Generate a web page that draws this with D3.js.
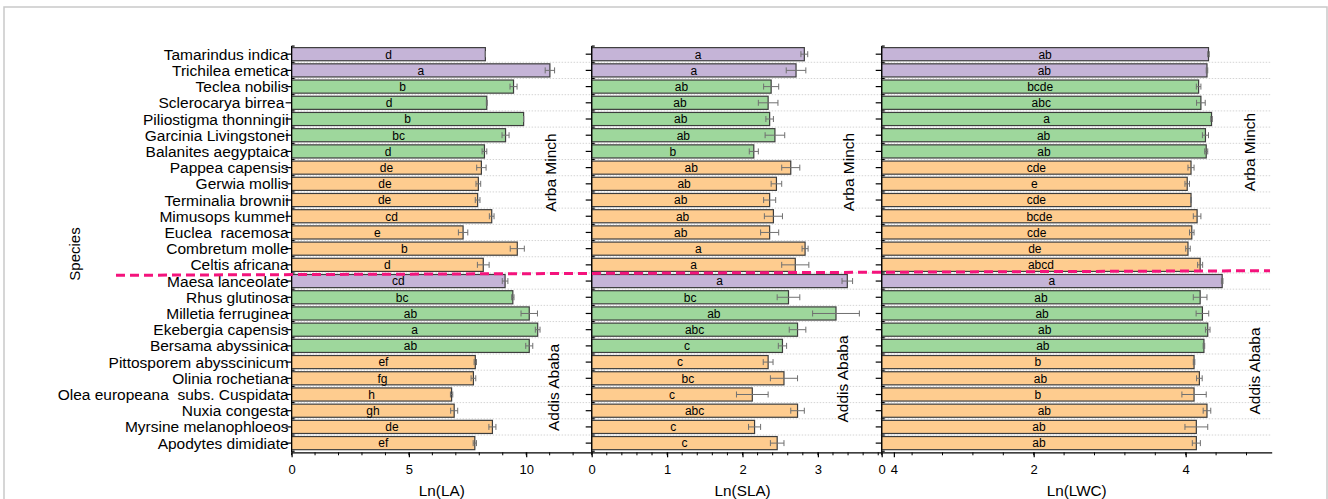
<!DOCTYPE html>
<html>
<head>
<meta charset="utf-8">
<script src="https://cdn.jsdelivr.net/npm/d3@7"></script>
<style>
  html, body { margin: 0; padding: 0; background: #fff; }
  svg text { font-family: "Liberation Sans", Arial, Helvetica, sans-serif; fill: #000; }
</style>
</head>
<body>
<svg id="chart" width="1328" height="499"></svg>
<script>
// ---- Data -------------------------------------------------------------
const species = [
  "Tamarindus indica", "Trichilea emetica", "Teclea nobilis", "Sclerocarya birrea ",
  "Piliostigma thonningii", "Garcinia Livingstonei", "Balanites aegyptaica",
  "Pappea capensis", "Gerwia mollis", "Terminalia brownii", "Mimusops kummel",
  "Euclea  racemosa", "Combretum molle", "Celtis africana",
  "Maesa lanceolate", "Rhus glutinosa", "Milletia ferruginea", "Ekebergia capensis",
  "Bersama abyssinica", "Pittosporem abysscinicum", "Olinia rochetiana",
  "Olea europeana  subs. Cuspidata", "Nuxia congesta", "Myrsine melanophloeos",
  "Apodytes dimidiate"
];
// species group (bar colour class)
const speciesGroup = [
  "A", "A", "B", "B", "B", "B", "B",
  "C", "C", "C", "C", "C", "C", "C",
  "A", "B", "B", "B", "B",
  "C", "C", "C", "C", "C", "C"
];
const sites = ["Arba Minch", "Addis Ababa"];

// Ln(LA)
const laMean = [8.26, 11.01, 9.46, 8.32, 9.89, 9.12, 8.22, 8.09, 7.96, 7.93, 8.53, 7.31, 9.62, 8.17,
                9.10, 9.43, 10.13, 10.49, 10.13, 7.83, 7.75, 6.82, 6.93, 8.56, 7.81];
const laErr  = [0.00, 0.20, 0.15, 0.02, 0.00, 0.15, 0.10, 0.20, 0.10, 0.10, 0.10, 0.20, 0.30, 0.25,
                0.12, 0.05, 0.35, 0.10, 0.15, 0.05, 0.10, 0.05, 0.15, 0.15, 0.07];
const laLetters = ["d", "a", "b", "d", "b", "bc", "d", "de", "de", "de", "cd", "e", "b", "d",
                   "cd", "bc", "ab", "a", "ab", "ef", "fg", "h", "gh", "de", "ef"];

// Ln(SLA)
const slaMean = [2.82, 2.71, 2.38, 2.34, 2.36, 2.43, 2.15, 2.64, 2.45, 2.36, 2.41, 2.36, 2.83, 2.70,
                 3.39, 2.61, 3.24, 2.73, 2.53, 2.34, 2.55, 2.13, 2.73, 2.16, 2.46];
const slaErr  = [0.045, 0.13, 0.10, 0.13, 0.05, 0.13, 0.06, 0.12, 0.07, 0.08, 0.12, 0.12, 0.04, 0.18,
                 0.07, 0.15, 0.31, 0.11, 0.055, 0.065, 0.18, 0.21, 0.09, 0.08, 0.09];
const slaLetters = ["a", "a", "ab", "ab", "ab", "ab", "b", "ab", "ab", "ab", "ab", "ab", "a", "a",
                    "a", "bc", "ab", "abc", "c", "c", "bc", "c", "abc", "c", "c"];

// Ln(LWC)
const lwcMean = [4.30, 4.28, 4.17, 4.20, 4.34, 4.26, 4.27, 4.07, 4.02, 4.07, 4.15, 4.08, 4.03, 4.19,
                 4.48, 4.19, 4.22, 4.29, 4.24, 4.11, 4.18, 4.11, 4.28, 4.14, 4.14];
const lwcErr  = [0.01, 0.01, 0.03, 0.057, 0.01, 0.04, 0.02, 0.04, 0.03, 0.005, 0.05, 0.03, 0.03, 0.033,
                 0.01, 0.09, 0.083, 0.03, 0.01, 0.01, 0.037, 0.16, 0.05, 0.15, 0.053];
const lwcLetters = ["ab", "ab", "bcde", "abc", "a", "ab", "ab", "cde", "e", "cde", "bcde", "cde", "de", "abcd",
                    "a", "ab", "ab", "ab", "ab", "b", "ab", "b", "ab", "ab", "ab"];

// Axis ticks
const laTickValues  = [0, 5, 10];
const laTickLabels  = ["0", "5", "10"];
const slaTickValues = [0, 1, 2, 3];
const slaTickLabels = ["0", "1", "2", "3"];
const lwcTickValues = [0, 0.16, 2, 4];
const lwcTickLabels = ["0", "4", "2", "4"];

// ---- Layout -----------------------------------------------------------
const plotTop = 46, plotBottom = 451.3, axisY = 452.3;
const groupColor = { A: "#c5b4d7", B: "#9ed79c", C: "#fecc8f" };

const panels = [
  { title: "Ln(LA)", mean: laMean, err: laErr, letters: laLetters,
    x0: 291.6, x1: 592, perUnit: 23.46, minorStep: 1,
    tickValues: laTickValues, tickLabels: laTickLabels,
    siteLabelPos: [[550, 172.5], [553, 387.5]] },
  { title: "Ln(SLA)", mean: slaMean, err: slaErr, letters: slaLetters,
    x0: 591.7, x1: 881.6, perUnit: 75.4, minorStep: 0.2,
    tickValues: slaTickValues, tickLabels: slaTickLabels,
    siteLabelPos: [[848, 172], [842, 379]] },
  { title: "Ln(LWC)", mean: lwcMean, err: lwcErr, letters: lwcLetters,
    x0: 881.7, x1: 1271.7, perUnit: 76, minorStep: 0.4,
    tickValues: lwcTickValues, tickLabels: lwcTickLabels,
    siteLabelPos: [[1249, 152], [1254, 371]] }
];

const svg = d3.select("#chart");

// outer frame
svg.append("rect")
  .attr("x", 4).attr("y", 7).attr("width", 1323).attr("height", 520)
  .attr("fill", "none").attr("stroke", "#c9c9c9").attr("stroke-width", 1.5);

const y = d3.scaleBand()
  .domain(species)
  .range([plotTop, plotBottom])
  .paddingInner(0.19)
  .paddingOuter(0.1);
const step = y.step();
const boundaries = species.map(s => y(s) - step * y.paddingInner() / 2)
  .concat([y(species[species.length - 1]) + y.bandwidth() + step * y.paddingInner() / 2]);

panels.forEach((p, pi) => {
  const x = d3.scaleLinear()
    .domain([0, (p.x1 - p.x0) / p.perUnit])
    .range([p.x0, p.x1]);
  const g = svg.append("g");

  // dotted row separators
  g.selectAll("line.grid").data(boundaries.slice(1, -1)).join("line")
    .attr("x1", p.x0).attr("x2", p.x1)
    .attr("y1", d => d).attr("y2", d => d)
    .attr("stroke", "#d4d4d4").attr("stroke-width", 1)
    .attr("stroke-dasharray", "1.5,1.5");

  // bars
  g.selectAll("rect.bar").data(species).join("rect")
    .attr("x", x(0))
    .attr("y", d => y(d))
    .attr("width", (d, i) => x(p.mean[i]) - x(0))
    .attr("height", y.bandwidth())
    .attr("fill", (d, i) => groupColor[speciesGroup[i]])
    .attr("stroke", "#3d3d3d").attr("stroke-width", 1.2);

  // error bars
  const eb = g.selectAll("g.err").data(species).join("g")
    .attr("stroke", "#707070").attr("stroke-width", 1).attr("fill", "none");
  eb.append("line")
    .attr("x1", (d, i) => x(p.mean[i] - p.err[i]))
    .attr("x2", (d, i) => x(p.mean[i] + p.err[i]))
    .attr("y1", d => y(d) + y.bandwidth() / 2)
    .attr("y2", d => y(d) + y.bandwidth() / 2);
  [-1, 1].forEach(sgn => {
    eb.append("line")
      .attr("x1", (d, i) => x(p.mean[i] + sgn * p.err[i]))
      .attr("x2", (d, i) => x(p.mean[i] + sgn * p.err[i]))
      .attr("y1", d => y(d) + y.bandwidth() / 2 - 3)
      .attr("y2", d => y(d) + y.bandwidth() / 2 + 3);
  });

  // significance letters
  g.selectAll("text.letter").data(species).join("text")
    .attr("x", (d, i) => (x(0) + x(p.mean[i])) / 2)
    .attr("y", d => y(d) + y.bandwidth() / 2)
    .attr("dy", "0.36em")
    .attr("text-anchor", "middle")
    .attr("font-size", 12)
    .text((d, i) => p.letters[i]);

  // y axis line and ticks
  const ya = svg.append("g").attr("stroke", "#000").attr("stroke-width", 1.2);
  ya.append("line").attr("x1", p.x0).attr("x2", p.x0).attr("y1", plotTop).attr("y2", axisY);
  ya.selectAll("line.tk").data(species).join("line")
    .attr("x1", p.x0 - 6).attr("x2", p.x0)
    .attr("y1", d => y(d) + y.bandwidth() / 2)
    .attr("y2", d => y(d) + y.bandwidth() / 2);
  ya.selectAll("line.tb").data(boundaries).join("line")
    .attr("x1", p.x0).attr("x2", p.x0 + 3)
    .attr("y1", d => d).attr("y2", d => d);

  // species labels on first panel only
  if (pi === 0) {
    svg.append("g").selectAll("text").data(species).join("text")
      .attr("x", p.x0 - 3)
      .attr("y", d => y(d) + y.bandwidth() / 2)
      .attr("dy", "0.36em")
      .attr("text-anchor", "end")
      .attr("font-size", 15.5)
      .style("white-space", "pre")
      .text(d => d);
  }

  // x axis: major ticks with labels
  const xa = d3.axisBottom(x)
    .tickValues(p.tickValues)
    .tickFormat((d, i) => p.tickLabels[i])
    .tickSize(5)
    .tickSizeOuter(0)
    .tickPadding(7);
  const xg = svg.append("g").attr("transform", `translate(0,${axisY})`).call(xa);
  xg.select(".domain").attr("stroke-width", 1.2);
  xg.selectAll(".tick line").attr("stroke-width", 1.2);
  xg.selectAll(".tick text")
    .attr("font-size", 13)
    .attr("font-family", "Liberation Sans, Arial, sans-serif");

  // minor ticks
  const maxV = x.domain()[1];
  const minor = d3.range(0, maxV + 1e-9, p.minorStep);
  svg.append("g").selectAll("line").data(minor).join("line")
    .attr("x1", d => x(d)).attr("x2", d => x(d))
    .attr("y1", axisY).attr("y2", axisY + 3)
    .attr("stroke", "#000").attr("stroke-width", 1);

  // axis title
  svg.append("text")
    .attr("x", (p.x0 + p.x1) / 2 + (pi === 1 ? 6 : 0))
    .attr("y", 495.5)
    .attr("text-anchor", "middle")
    .attr("font-size", 15.3)
    .text(p.title);

  // site labels
  sites.forEach((s, si) => {
    const [lx, ly] = p.siteLabelPos[si];
    svg.append("text")
      .attr("transform", `translate(${lx},${ly}) rotate(-90)`)
      .attr("text-anchor", "middle")
      .attr("dominant-baseline", "central")
      .attr("font-size", 15.5)
      .text(s);
  });
});

// y axis title
svg.append("text")
  .attr("transform", "translate(74,254) rotate(-90)")
  .attr("text-anchor", "middle")
  .attr("dominant-baseline", "central")
  .attr("font-size", 15)
  .text("Species");

// dashed separator between the two sites
svg.append("line")
  .attr("x1", 116).attr("y1", 275.3)
  .attr("x2", 1270).attr("y2", 270.7)
  .attr("stroke", "#f4137c").attr("stroke-width", 3)
  .attr("stroke-dasharray", "9,5");
</script>
</body>
</html>
